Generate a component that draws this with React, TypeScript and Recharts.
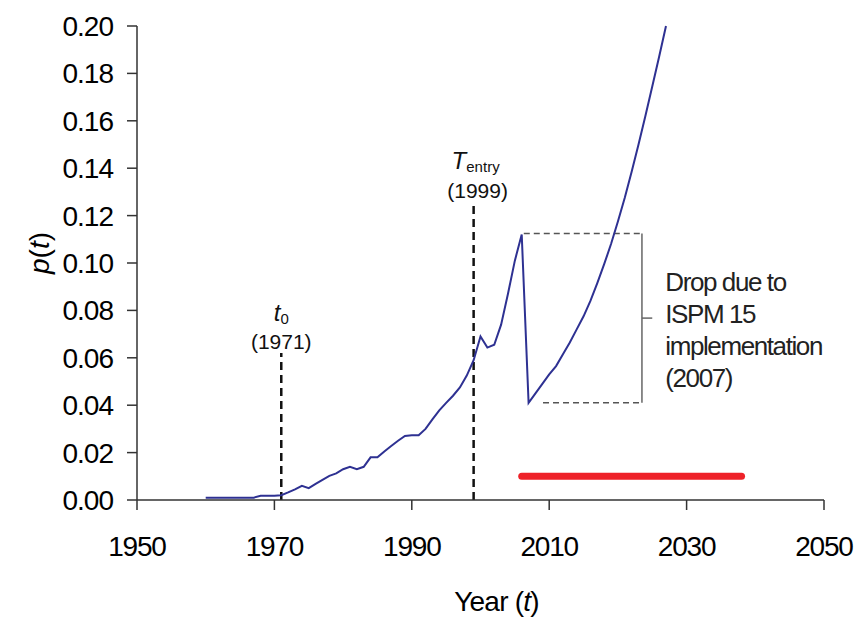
import React from 'react';
import { LineChart, Line, XAxis, YAxis, ReferenceLine, ReferenceDot } from 'recharts';

const years = [
  1960, 1967, 1968, 1970, 1971, 1972, 1973, 1974, 1975, 1976, 1977, 1978, 1979, 1980,
  1981, 1982, 1983, 1984, 1985, 1986, 1987, 1988, 1989, 1990, 1991, 1992, 1993, 1994,
  1995, 1996, 1997, 1998, 1999, 2000, 2001, 2002, 2003, 2004, 2005, 2006, 2007, 2008,
  2009, 2010, 2011, 2012, 2013, 2014, 2015, 2016, 2017, 2018, 2019, 2020, 2021, 2022,
  2023, 2024, 2025, 2026, 2027,
];
const pValues = [
  0.001, 0.001, 0.0018, 0.0018, 0.002, 0.0032, 0.0045, 0.006, 0.005, 0.0068, 0.0085, 0.0102, 0.0112, 0.013,
  0.014, 0.013, 0.014, 0.018, 0.018, 0.0205, 0.0228, 0.025, 0.027, 0.0273, 0.0273, 0.030, 0.034, 0.0378,
  0.041, 0.044, 0.0475, 0.0525, 0.059, 0.069, 0.0643, 0.0655, 0.074, 0.087, 0.101, 0.112, 0.041, 0.045,
  0.049, 0.053, 0.0565, 0.0615, 0.0665, 0.072, 0.0775, 0.084, 0.0915, 0.0995, 0.108, 0.1175, 0.1275, 0.1385,
  0.150, 0.162, 0.1745, 0.187, 0.2,
];

const xTicks = [1950, 1970, 1990, 2010, 2030, 2050];
const yTicks = [0, 0.02, 0.04, 0.06, 0.08, 0.1, 0.12, 0.14, 0.16, 0.18, 0.2];

const t0Year = 1971;
const t0Top = 0.062;
const tEntryYear = 1999;
const tEntryTop = 0.1245;

const implementationSpan = [2006, 2038];
const implementationLevel = 0.01;

const dropHigh = 0.1125;
const dropLow = 0.041;
const dropHighStart = 2006.3;
const dropLowStart = 2009.1;
const bracketYear = 2023.5;
const bracketNubYear = 2025;
const dropLabelLines = ['Drop due to', 'ISPM 15', 'implementation', '(2007)'];

const data = years.map((year, i) => ({ year, p: pValues[i] }));

const FONT = '"Liberation Sans", Arial, Helvetica, sans-serif';
const AXIS = '#333333';

function XTick(props: any) {
  const { x, y, payload } = props;
  return (
    <text x={x} y={y} dy="0.71em" textAnchor="middle" fontSize={28} fontFamily={FONT} fill="#000" letterSpacing={-1.2}>
      {payload.value}
    </text>
  );
}

function YTick(props: any) {
  const { x, y, payload } = props;
  return (
    <text x={x} y={y} dy="0.355em" textAnchor="end" fontSize={28} fontFamily={FONT} fill="#000" letterSpacing={-1}>
      {Number(payload.value).toFixed(2)}
    </text>
  );
}

function XLabel(props: any) {
  const { viewBox } = props;
  const cx = viewBox.x + viewBox.width / 2 + 16;
  return (
    <text x={cx} y={viewBox.y + 111} textAnchor="middle" fontSize={28} fontFamily={FONT} fill="#000" letterSpacing={-0.8}>
      Year (<tspan fontStyle="italic">t</tspan>)
    </text>
  );
}

function YLabel(props: any) {
  const { viewBox } = props;
  const cx = 39;
  const cy = viewBox.y + viewBox.height / 2 - 10;
  return (
    <text x={cx} y={cy} dy="0.35em" transform={`rotate(-90, ${cx}, ${cy})`} textAnchor="middle" fontSize={28} fontFamily={FONT} fill="#000">
      <tspan fontStyle="italic">p</tspan>(<tspan fontStyle="italic">t</tspan>)
    </text>
  );
}

function T0Label(props: any) {
  const { viewBox } = props;
  const x = viewBox.x + viewBox.width / 2;
  const y = viewBox.y + viewBox.height / 2;
  return (
    <g fontFamily={FONT} fill="#111">
      <text x={x} y={y - 32} textAnchor="middle" fontSize={24}>
        <tspan fontStyle="italic">t</tspan>
        <tspan fontSize={15} dy={3}>0</tspan>
      </text>
      <text x={x} y={y - 4} textAnchor="middle" fontSize={21}>{`(${t0Year})`}</text>
    </g>
  );
}

function TEntryLabel(props: any) {
  const { viewBox } = props;
  const x = viewBox.x + viewBox.width / 2;
  const y = viewBox.y + viewBox.height / 2;
  return (
    <g fontFamily={FONT} fill="#111">
      <text x={x + 2} y={y - 36} textAnchor="middle" fontSize={24}>
        <tspan fontStyle="italic">T</tspan>
        <tspan fontSize={15} dy={3}>entry</tspan>
      </text>
      <text x={x + 4} y={y - 7} textAnchor="middle" fontSize={21}>{`(${tEntryYear})`}</text>
    </g>
  );
}

function DropLabel(props: any) {
  const { viewBox } = props;
  const x = viewBox.x + viewBox.width / 2;
  const y = viewBox.y + viewBox.height / 2;
  return (
    <g fontFamily={FONT} fill="#222">
      {dropLabelLines.map((line, i) => (
        <text key={i} x={x + 13} y={y - 27 + i * 32} fontSize={26} letterSpacing={-1.4}>
          {line}
        </text>
      ))}
    </g>
  );
}

export default function App() {
  return (
    <div style={{ position: 'absolute', left: 0, top: 0, width: 854, height: 620, background: '#fff' }}>
      <LineChart width={854} height={620} data={data} margin={{ top: 26, right: 30, bottom: 60, left: 0 }}>
        <XAxis
          dataKey="year"
          type="number"
          domain={[1950, 2050]}
          ticks={xTicks}
          tickSize={10}
          tickMargin={26}
          tick={<XTick />}
          axisLine={{ stroke: AXIS, strokeWidth: 1.5 }}
          tickLine={{ stroke: AXIS, strokeWidth: 1.5 }}
          height={60}
          label={{ content: XLabel }}
          interval={0}
        />
        <YAxis
          type="number"
          domain={[0, 0.2]}
          ticks={yTicks}
          width={137}
          tickSize={10}
          tickMargin={14}
          tick={<YTick />}
          axisLine={{ stroke: AXIS, strokeWidth: 1.5 }}
          tickLine={{ stroke: AXIS, strokeWidth: 1.5 }}
          label={{ content: YLabel }}
          interval={0}
        />
        <ReferenceLine
          segment={[{ x: t0Year, y: 0 }, { x: t0Year, y: t0Top }]}
          stroke="#111"
          strokeWidth={2.5}
          strokeDasharray="8 5"
        />
        <ReferenceLine
          segment={[{ x: tEntryYear, y: 0 }, { x: tEntryYear, y: tEntryTop }]}
          stroke="#111"
          strokeWidth={2.5}
          strokeDasharray="8 5"
        />
        <ReferenceLine
          segment={[{ x: dropHighStart, y: dropHigh }, { x: bracketYear, y: dropHigh }]}
          stroke="#555"
          strokeWidth={1.5}
          strokeDasharray="6 4"
        />
        <ReferenceLine
          segment={[{ x: dropLowStart, y: dropLow }, { x: bracketYear, y: dropLow }]}
          stroke="#555"
          strokeWidth={1.5}
          strokeDasharray="6 4"
        />
        <ReferenceLine
          segment={[{ x: bracketYear, y: dropHigh }, { x: bracketYear, y: dropLow }]}
          stroke="#666"
          strokeWidth={1.5}
        />
        <ReferenceLine
          segment={[{ x: bracketYear, y: (dropHigh + dropLow) / 2 }, { x: bracketNubYear, y: (dropHigh + dropLow) / 2 }]}
          stroke="#666"
          strokeWidth={1.5}
        />
        <ReferenceLine
          segment={[{ x: implementationSpan[0], y: implementationLevel }, { x: implementationSpan[1], y: implementationLevel }]}
          stroke="#EE2229"
          strokeWidth={7}
          strokeLinecap="round"
        />
        <Line
          type="linear"
          dataKey="p"
          stroke="#2E3192"
          strokeWidth={2}
          dot={false}
          activeDot={false}
          isAnimationActive={false}
        />
        <ReferenceDot x={t0Year} y={t0Top} r={0} fill="none" stroke="none" label={{ content: T0Label }} />
        <ReferenceDot x={tEntryYear} y={tEntryTop} r={0} fill="none" stroke="none" label={{ content: TEntryLabel }} />
        <ReferenceDot
          x={bracketNubYear}
          y={(dropHigh + dropLow) / 2}
          r={0}
          fill="none"
          stroke="none"
          label={{ content: DropLabel }}
        />
      </LineChart>
    </div>
  );
}
